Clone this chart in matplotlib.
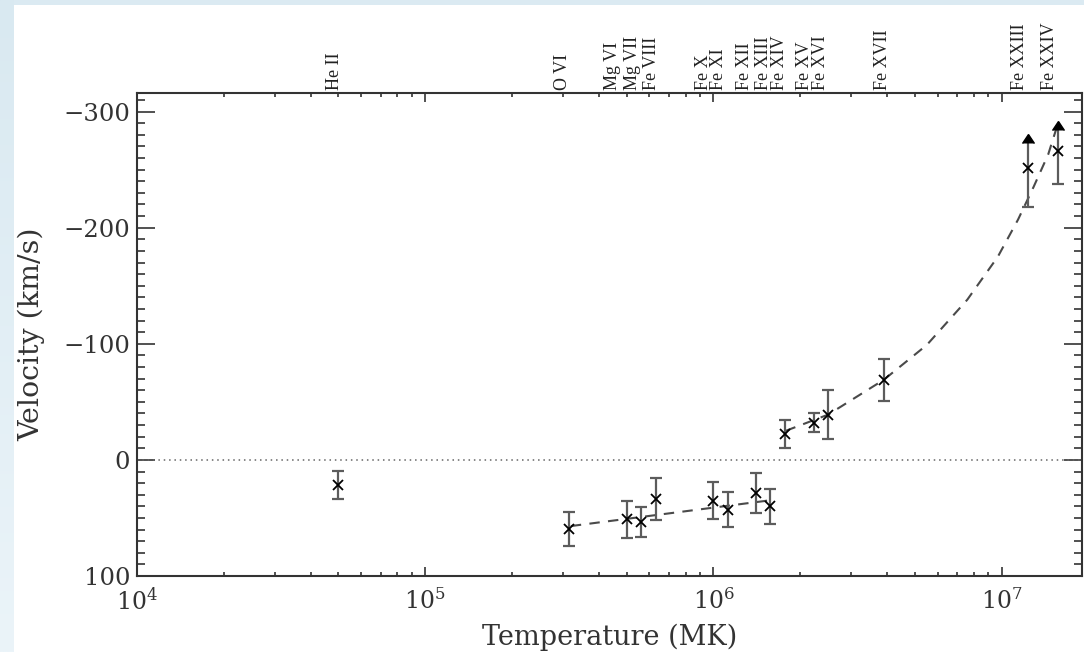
import numpy as np
import matplotlib
matplotlib.use('Agg')
import matplotlib.pyplot as plt
from matplotlib.ticker import FixedLocator, LogLocator, MultipleLocator, NullFormatter

# Doppler velocity of each line against its formation temperature
ions = ['He II', 'O VI', 'Mg VI', 'Mg VII', 'Fe VIII', 'Fe X', 'Fe XI', 'Fe XII',
        'Fe XIII', 'Fe XIV', 'Fe XV', 'Fe XVI', 'Fe XVII', 'Fe XXIII', 'Fe XXIV']
# peak formation temperature of each ion (label positions along the top)
ion_temp_k = [5.06e4, 3.13e5, 4.66e5, 5.46e5, 6.36e5, 9.64e5, 1.087e6, 1.337e6,
              1.556e6, 1.775e6, 2.16e6, 2.45e6, 4.03e6, 1.21e7, 1.53e7]
# measured points
temp_k = [5.0e4, 3.15e5, 5.0e5, 5.6e5, 6.3e5, 1.0e6, 1.12e6, 1.40e6,
          1.57e6, 1.77e6, 2.23e6, 2.5e6, 3.9e6, 1.23e7, 1.57e7]
velocity = [21.5, 59.5, 51, 53.5, 33.5, 35, 43, 28.5,
            40, -22.5, -32, -39, -69, -251, -266]
# error toward blue (upward on plot) and red (downward)
err_blue = [12, 15, 16, 13, 18, 16, 15, 17, 15, 12, 8, 21, 18, 22, 18]
err_red = [12, 15, 16, 13, 18, 16, 15, 17, 15, 12, 8, 21, 18, 33, 28]
lower_limit = [False] * 13 + [True, True]

# dashed trends
cool_fit_t = [3.2e5, 1.55e6]
cool_fit_v = [57, 35]
hot_fit_t = [1.78e6, 2.5e6, 3.9e6, 5.5e6, 7.6e6, 9.7e6, 1.14e7, 1.29e7, 1.45e7, 1.56e7]
hot_fit_v = [-25, -39, -69, -99, -138, -175, -207, -235, -263, -288]

W, H = 1084, 652
fig = plt.figure(figsize=(W / 100, H / 100), dpi=100, facecolor='white')

# pale blue frame at the left and top
grad = np.linspace(0, 1, 256).reshape(-1, 1)
left_strip = fig.add_axes([0, 0, 14 / W, 1])
left_strip.imshow(grad, aspect='auto', extent=[0, 1, 0, 1],
                  cmap=matplotlib.colors.LinearSegmentedColormap.from_list(
                      'pale', ['#d9e9f1', '#ebf4f9']))
left_strip.axis('off')
top_strip = fig.add_axes([14 / W, 1 - 5 / H, 1 - 14 / W, 5 / H])
top_strip.axis('off')
top_strip.add_patch(plt.Rectangle((0, 0), 1, 1, color='#dbeaf2'))

serif = ['DejaVu Serif']
ink = '#333333'
ax = fig.add_axes([137 / W, 76 / H, (1082 - 137) / W, (576 - 93) / H])
ax.set_xscale('log')
ax.set_xlim(1e4, 1.9e7)
ax.set_ylim(100, -316)

grey = '#5c5c5c'
ax.axhline(0, color='#666666', lw=1.1, ls=(0, (1, 2.5)))

ax.plot(cool_fit_t, cool_fit_v, color='#4a4a4a', lw=1.5, ls=(0, (5, 4)))
ax.plot(hot_fit_t, hot_fit_v, color='#4a4a4a', lw=1.5, ls=(0, (5, 4)))

for t, v, eb, er, lim in zip(temp_k, velocity, err_blue, err_red, lower_limit):
    if lim:
        ax.vlines(t, v - eb, v + er, color=grey, lw=1.6)
        ax.plot([t], [v + er], marker='_', ms=9, mew=1.6, color=grey)
        ax.plot([t], [v - eb], marker=10, ms=9, color='black', mec='black')
    else:
        ax.errorbar([t], [v], yerr=[[eb], [er]], fmt='none', ecolor=grey,
                    elinewidth=1.6, capsize=4.5, capthick=1.6)
    ax.plot([t], [v], marker='x', ms=7, mew=1.3, color='black', ls='none')

# ion names stand vertically above the frame
for name, t in zip(ions, ion_temp_k):
    ax.annotate(name, xy=(t, 1), xycoords=('data', 'axes fraction'),
                xytext=(-4, 2.5), textcoords='offset points', rotation=90,
                ha='center', va='bottom', fontsize=13, family='Liberation Serif',
                color='#222222')

ax.xaxis.set_major_locator(LogLocator(base=10, numticks=10))
ax.xaxis.set_minor_locator(LogLocator(base=10, subs=np.arange(2, 10), numticks=20))
ax.xaxis.set_minor_formatter(NullFormatter())
ax.yaxis.set_major_locator(FixedLocator([-300, -200, -100, 0, 100]))
ax.yaxis.set_minor_locator(MultipleLocator(10))

ax.tick_params(axis='both', which='both', direction='in', top=True, right=True,
               color=ink, width=1.2, labelcolor=ink)
ax.tick_params(axis='x', which='major', length=6.5, pad=9, labelsize=17)
ax.tick_params(axis='x', which='minor', length=3)
ax.tick_params(axis='y', which='major', length=13, pad=5, labelsize=17.5)
ax.tick_params(axis='y', which='minor', length=6)
for lab in ax.get_xticklabels() + ax.get_yticklabels():
    lab.set_family(serif)

for sp in ax.spines.values():
    sp.set_color(ink)
    sp.set_linewidth(1.5)

ax.set_xlabel('Temperature (MK)', family=serif, fontsize=19.5, labelpad=6, color=ink)
ax.set_ylabel('Velocity (km/s)', family=serif, fontsize=20.5, labelpad=13, color=ink)

fig.savefig('out.png', dpi=100)
